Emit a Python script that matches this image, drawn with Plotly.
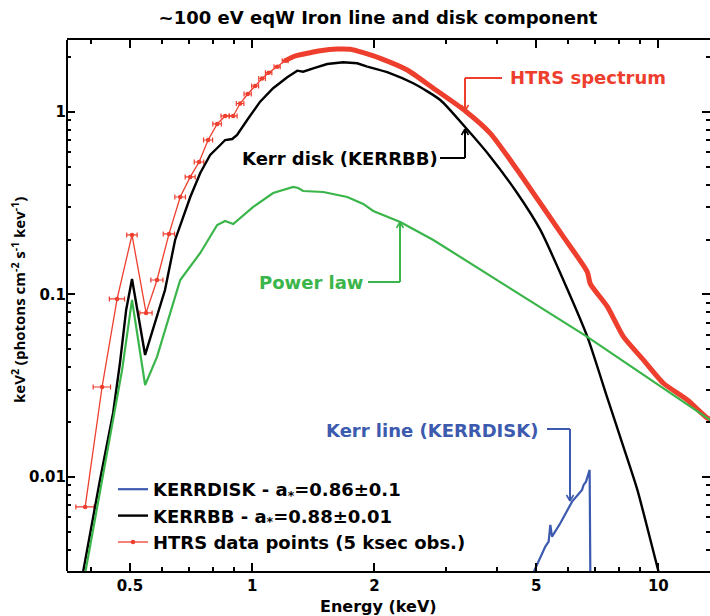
import plotly.graph_objects as go

# ---- HTRS binned data points (energy in keV, E^2 F(E) in keV^2 ph cm^-2 s^-1 keV^-1)
htrs_e = [0.388, 0.427, 0.465, 0.506, 0.548, 0.583, 0.624, 0.665, 0.704, 0.740,
          0.779, 0.820, 0.858, 0.898, 0.934, 0.975, 1.017, 1.058, 1.098, 1.152, 1.206]
htrs_v = [0.00685, 0.0311, 0.0945, 0.212, 0.0792, 0.120, 0.2146, 0.342, 0.4406, 0.532,
          0.702, 0.860, 0.951, 0.951, 1.113, 1.255, 1.388, 1.526, 1.642, 1.771, 1.910]
htrs_de = [0.020, 0.021, 0.020, 0.015, 0.019, 0.020, 0.020, 0.020, 0.020, 0.020,
           0.020, 0.020, 0.020, 0.020, 0.020, 0.020, 0.020, 0.020, 0.020, 0.020, 0.020]

# ---- HTRS spectrum, densely binned part above ~1.2 keV
spec_e = [1.206, 1.276, 1.366, 1.471, 1.620, 1.743, 1.877, 2.067, 2.409, 2.792, 3.347,
          3.857, 4.495, 5.122, 5.834, 6.685, 6.800, 7.487, 8.200, 9.185, 10.29, 11.79,
          13.21, 13.8]
spec_v = [1.910, 2.027, 2.097, 2.167, 2.214, 2.206, 2.113, 1.969, 1.699, 1.349, 1.013,
          0.764, 0.481, 0.316, 0.2073, 0.1328, 0.1142, 0.0857, 0.0587, 0.0438, 0.0326,
          0.0264, 0.0210, 0.0203]

# ---- KERRBB disk model
kerrbb_e = [0.380, 0.422, 0.4546, 0.473, 0.4895, 0.506, 0.545, 0.583, 0.610, 0.646,
            0.704, 0.745, 0.788, 0.825, 0.858, 0.893, 0.918, 0.972, 1.046, 1.126,
            1.220, 1.291, 1.335, 1.413, 1.530, 1.675, 1.814, 1.920, 2.188, 2.492,
            2.905, 3.347, 3.857, 4.495, 5.122, 5.834, 6.685, 7.487, 8.200, 8.878,
            10.0, 10.2]
kerrbb_v = [0.0027, 0.00963, 0.0224, 0.0427, 0.0822, 0.1216, 0.0466, 0.0753, 0.1058, 0.1989,
            0.342, 0.463, 0.581, 0.643, 0.702, 0.711, 0.748, 0.904, 1.139, 1.349,
            1.549, 1.684, 1.663, 1.735, 1.832, 1.872, 1.849, 1.771, 1.630, 1.436,
            1.163, 0.824, 0.569, 0.3584, 0.2257, 0.1201, 0.0587, 0.0271, 0.01466, 0.00849,
            0.00305, 0.0026]
KERRBB_SMOOTH_FROM = 27   # index where the model becomes a smooth roll-over

# ---- absorbed power law
pl_e = [0.385, 0.422, 0.4546, 0.4784, 0.506, 0.545, 0.583, 0.617, 0.665, 0.745,
        0.820, 0.858, 0.898, 1.006, 1.126, 1.262, 1.298, 1.335, 1.496, 1.714,
        1.877, 1.986, 2.315, 2.792, 6.685, 13.43, 13.8]
pl_v = [0.0027, 0.00849, 0.0205, 0.0386, 0.0933, 0.0319, 0.0455, 0.0698, 0.120, 0.1688,
        0.2403, 0.2527, 0.2433, 0.3017, 0.3598, 0.3882, 0.3833, 0.3690, 0.3644, 0.3421,
        0.3132, 0.2868, 0.2496, 0.1989, 0.0585, 0.0205, 0.0197]

# ---- KERRDISK relativistic iron line
line_e = [4.894, 5.026, 5.122, 5.268, 5.368, 5.420, 5.472, 5.735, 6.131, 6.488,
          6.546, 6.636, 6.773, 6.800]
line_v = [0.0029, 0.00329, 0.00366, 0.00415, 0.00442, 0.00546, 0.00471, 0.00557, 0.00732, 0.00849,
          0.00904, 0.00942, 0.01092, 0.0029]

# ---- axis ticks
x_major = [0.5, 1, 2, 5, 10]
x_major_text = ["0.5", "1", "2", "5", "10"]
x_minor = [0.4, 0.6, 0.7, 0.8, 0.9, 3, 4, 6, 7, 8, 9]
y_major = [0.01, 0.1, 1]
y_major_text = ["0.01", "0.1", "1"]
y_minor = [0.004, 0.005, 0.006, 0.007, 0.008, 0.009,
           0.02, 0.03, 0.04, 0.05, 0.06, 0.07, 0.08, 0.09,
           0.2, 0.3, 0.4, 0.5, 0.6, 0.7, 0.8, 0.9, 2]

RED = "#ee3e2d"
GREEN = "#3ab54a"
BLUE = "#3c5aae"
BLACK = "#000000"
FONT = "DejaVu Sans"
FONT_YTITLE = "Open Sans"

W, H = 710, 616
L, R, T, B = 67, 0, 40, 45
X_RANGE = [-0.4559, 1.1271]      # log10 of 0.35 .. 13.4 keV
Y_RANGE = [-2.5157, 0.3945]      # log10 of 0.00305 .. 2.48


def px(x):
    return (x - L) / (W - L - R)


def py(y):
    return (H - B - y) / (H - T - B)


fig = go.Figure()

fig.add_trace(go.Scatter(
    x=htrs_e, y=htrs_v, mode="lines+markers", name="HTRS data points (5 ksec obs.)",
    line=dict(color=RED, width=1.3), marker=dict(color=RED, size=4.5),
    error_x=dict(type="data", array=htrs_de, color=RED, thickness=1.2, width=2.5),
    legendrank=3,
))
fig.add_trace(go.Scatter(
    x=spec_e, y=spec_v, mode="lines", showlegend=False,
    line=dict(color=RED, width=5, shape="spline", smoothing=0.6),
))
k = KERRBB_SMOOTH_FROM
fig.add_trace(go.Scatter(
    x=kerrbb_e[:k + 1], y=kerrbb_v[:k + 1], mode="lines",
    name="KERRBB - a<sub>*</sub>=0.88±0.01", legendgroup="kerrbb",
    line=dict(color=BLACK, width=2.4), legendrank=2,
))
fig.add_trace(go.Scatter(
    x=kerrbb_e[k:], y=kerrbb_v[k:], mode="lines", showlegend=False, legendgroup="kerrbb",
    line=dict(color=BLACK, width=2.4, shape="spline", smoothing=0.6),
))
fig.add_trace(go.Scatter(
    x=pl_e, y=pl_v, mode="lines", showlegend=False,
    line=dict(color=GREEN, width=2.2),
))
fig.add_trace(go.Scatter(
    x=line_e, y=line_v, mode="lines", name="KERRDISK - a<sub>*</sub>=0.86±0.1",
    line=dict(color=BLUE, width=2.2), legendrank=1,
))

# elbow-shaped callout arrows with open arrowheads
shapes = []


def elbow(points, color, tip):
    for (x0, y0), (x1, y1) in zip(points[:-1], points[1:]):
        shapes.append(dict(type="line", xref="paper", yref="paper",
                           x0=px(x0), y0=py(y0), x1=px(x1), y1=py(y1),
                           line=dict(color=color, width=2)))
    tx, ty = points[-1]
    d = 1 if tip == "down" else -1
    for s in (-1, 1):
        shapes.append(dict(type="line", xref="paper", yref="paper",
                           x0=px(tx), y0=py(ty), x1=px(tx + s * 3.5), y1=py(ty - d * 6),
                           line=dict(color=color, width=1.6)))


elbow([(502, 78), (465, 78), (465, 111)], RED, "down")
elbow([(440, 158), (465, 158), (465, 129)], BLACK, "up")
elbow([(368, 282), (400, 282), (400, 222)], GREEN, "up")
elbow([(547, 429), (570, 429), (570, 501)], BLUE, "down")

# left spine (right side carries ticks only)
shapes.append(dict(type="line", xref="paper", yref="paper", x0=0, y0=0, x1=0, y1=1,
                   line=dict(color=BLACK, width=2), layer="above"))

annotations = [
    dict(text="HTRS spectrum", x=px(508), y=py(78), xanchor="left", yanchor="middle",
         font=dict(family=FONT, color=RED, size=18)),
    dict(text="Kerr disk (KERRBB)", x=px(240), y=py(158), xanchor="left", yanchor="middle",
         font=dict(family=FONT, color=BLACK, size=18)),
    dict(text="Power law", x=px(257), y=py(282), xanchor="left", yanchor="middle",
         font=dict(family=FONT, color=GREEN, size=18)),
    dict(text="Kerr line (KERRDISK)", x=px(540), y=py(430), xanchor="right", yanchor="middle",
         font=dict(family=FONT, color=BLUE, size=18)),
    dict(text="Energy (keV)", x=px(378), y=py(606), xanchor="center", yanchor="middle",
         font=dict(family=FONT, color=BLACK, size=16)),
    dict(text="keV<sup>2</sup> (photons cm<sup>-2</sup> s<sup>-1</sup> kev<sup>-1</sup>)",
         x=px(18), y=py(300), xanchor="center", yanchor="middle", textangle=-90,
         font=dict(family=FONT_YTITLE, color=BLACK, size=15)),
]
for a in annotations:
    a.update(xref="paper", yref="paper", showarrow=False)
    a["font"].update(weight="bold")

fig.update_layout(
    width=W, height=H,
    margin=dict(l=L, r=R, t=T, b=B, pad=0),
    paper_bgcolor="white", plot_bgcolor="white",
    font=dict(family=FONT, color=BLACK, weight="bold"),
    title=dict(text="~100 eV eqW Iron line and disk component", x=378 / W, y=1 - 18 / H,
               xanchor="center", yanchor="middle",
               font=dict(family=FONT, size=18, weight="bold", color=BLACK)),
    showlegend=True,
    legend=dict(x=px(113), y=py(471), xanchor="left", yanchor="top",
                bgcolor="rgba(0,0,0,0)", font=dict(family=FONT, size=18, weight="bold"),
                itemwidth=30, tracegroupgap=0),
    shapes=shapes,
    annotations=annotations,
)

fig.update_xaxes(
    type="log", range=X_RANGE, showgrid=False, zeroline=False,
    showline=True, linecolor=BLACK, linewidth=2, mirror="ticks",
    ticks="inside", ticklen=8, tickwidth=1.5, tickcolor=BLACK,
    tickmode="array", tickvals=x_major, ticktext=x_major_text,
    tickfont=dict(family=FONT, size=15, weight="bold", color=BLACK),
    minor=dict(tickmode="array", tickvals=x_minor, ticks="inside", ticklen=4,
               tickwidth=1.5, tickcolor=BLACK, showgrid=False),
)
fig.update_yaxes(
    type="log", range=Y_RANGE, showgrid=False, zeroline=False,
    showline=False, mirror="ticks",
    ticks="inside", ticklen=8, tickwidth=1.5, tickcolor=BLACK,
    tickmode="array", tickvals=y_major, ticktext=y_major_text,
    tickfont=dict(family=FONT, size=15, weight="bold", color=BLACK),
    minor=dict(tickmode="array", tickvals=y_minor, ticks="inside", ticklen=4,
               tickwidth=1.5, tickcolor=BLACK, showgrid=False),
)

fig.write_html("out.html")
